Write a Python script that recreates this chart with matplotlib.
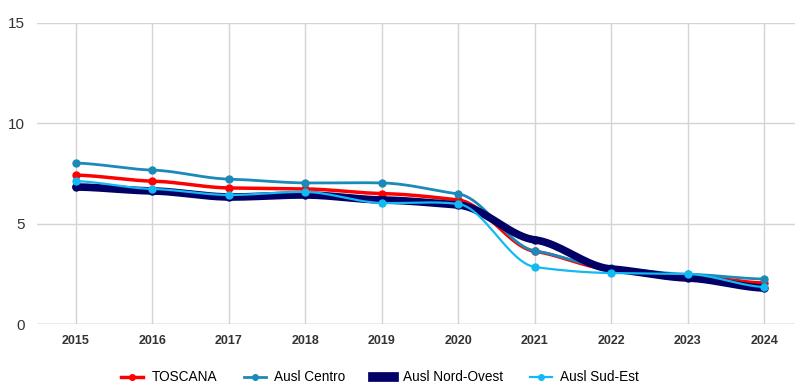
import numpy as np
import matplotlib
matplotlib.use("Agg")
import matplotlib.pyplot as plt
from matplotlib.lines import Line2D

plt.rcParams['font.family'] = ['Liberation Sans', 'DejaVu Sans']

years = [2015, 2016, 2017, 2018, 2019, 2020, 2021, 2022, 2023, 2024]
toscana = [7.42, 7.12, 6.78, 6.73, 6.50, 6.18, 3.62, 2.72, 2.40, 2.04]
centro = [8.02, 7.67, 7.22, 7.03, 7.03, 6.48, 3.64, 2.79, 2.48, 2.24]
nord_ovest = [6.83, 6.63, 6.33, 6.43, 6.18, 5.93, 4.19, 2.74, 2.29, 1.79]
sud_est = [7.12, 6.73, 6.43, 6.58, 6.03, 5.98, 2.84, 2.54, 2.49, 1.84]
y_ticks = [0, 5, 10, 15]


def smooth(xs, ys, tension=0.3, n=20):
    # cubic hermite curve through the points, softened tangents
    xs = np.asarray(xs, float)
    ys = np.asarray(ys, float)
    m = np.gradient(ys, xs) * tension
    out_x, out_y = [], []
    for i in range(len(xs) - 1):
        h = xs[i + 1] - xs[i]
        t = np.linspace(0, 1, n, endpoint=False)
        h00 = 2 * t**3 - 3 * t**2 + 1
        h10 = t**3 - 2 * t**2 + t
        h01 = -2 * t**3 + 3 * t**2
        h11 = t**3 - t**2
        out_x.extend(xs[i] + t * h)
        out_y.extend(h00 * ys[i] + h10 * h * m[i] + h01 * ys[i + 1] + h11 * h * m[i + 1])
    out_x.append(xs[-1])
    out_y.append(ys[-1])
    return out_x, out_y


fig = plt.figure(figsize=(7.95, 3.89), dpi=100)
ax = fig.add_axes([37 / 795, 65 / 389, 758 / 795, 301 / 389])

series = [
    ("TOSCANA", toscana, "#ff0000", 2.5, 5),
    ("Ausl Centro", centro, "#1a8ab8", 2.0, 5),
    ("Ausl Nord-Ovest", nord_ovest, "#000066", 5.5, 5),
    ("Ausl Sud-Est", sud_est, "#12b9f2", 1.6, 5),
]

handles = []
for label, vals, color, lw, ms in series:
    sx, sy = smooth(years, vals)
    ax.plot(sx, sy, color=color, lw=lw, solid_capstyle="round", zorder=3)
    ax.plot(years, vals, "o", color=color, ms=ms, zorder=3)
    if label == "Ausl Nord-Ovest":
        handles.append(Line2D([], [], color=color, lw=7))
    else:
        handles.append(Line2D([], [], color=color, lw=lw, marker="o", ms=ms - 1))

ax.set_xlim(2014.49, 2024.4)
ax.set_ylim(0, 15)
ax.set_yticks(y_ticks)
ax.set_xticks(years)
ax.grid(True, color="#d4d4d4", lw=1)
ax.set_axisbelow(True)
for s in ax.spines.values():
    s.set_visible(False)
ax.axhline(0, color="#bbbbbb", lw=1, zorder=1)
ax.tick_params(length=0)
ax.tick_params(axis="y", labelsize=11, pad=9, labelcolor="#333333")
ax.tick_params(axis="x", pad=8)
for t in ax.get_xticklabels():
    t.set_fontfamily(["Liberation Sans Narrow", "Liberation Sans"])
    t.set_fontweight("bold")
    t.set_fontsize(9)
    t.set_color("#333333")

fig.legend(handles, [s[0] for s in series], loc="center", ncol=4,
           bbox_to_anchor=(0.478, 0.03), frameon=False, fontsize=9.8,
           handlelength=1.6, columnspacing=2.0, handletextpad=0.6)

fig.savefig("out.png", dpi=100)
